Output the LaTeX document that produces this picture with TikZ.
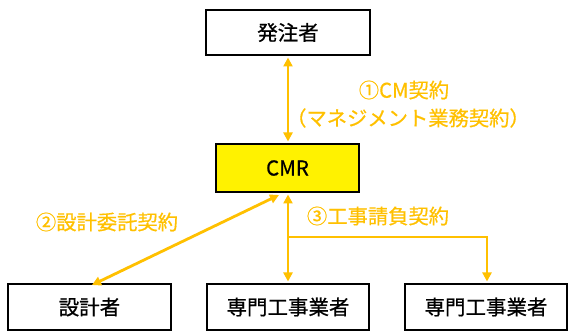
\documentclass[tikz,border=0pt]{standalone}
\usepackage{fontspec}
\setmainfont{Noto Sans CJK JP}[FakeBold=0.6]
\usetikzlibrary{arrows.meta}
\definecolor{contract}{HTML}{FFC000}
\begin{document}
\begin{tikzpicture}[x=1pt,y=-1pt,
  box/.style={draw=black,line width=2pt,minimum height=45pt,inner sep=0pt,font=\fontsize{20.5}{20.5}\selectfont},
  link/.style={draw=contract,line width=2.8pt,{Triangle[length=9pt,width=9pt]}-{Triangle[length=9pt,width=9pt]}},
  onelink/.style={draw=contract,line width=2.8pt,-{Triangle[length=9pt,width=9pt]}},
  lab/.style={text=contract,font=\fontsize{20.3}{20.3}\selectfont,inner sep=0pt}]
\useasboundingbox (0,0) rectangle (571,331);
\node[box,minimum width=164pt] (owner) at (288,32.5) {発注者};
\node[box,minimum width=143pt,minimum height=48pt,fill=yellow] (cmr) at (287.5,168) {CMR};
\node[box,minimum width=163pt,minimum height=46pt] (designer) at (89.5,307) {設計者};
\node[box,minimum width=162pt,minimum height=46pt] (sub1) at (288,307) {専門工事業者};
\node[box,minimum width=162pt,minimum height=46pt] (sub2) at (486,307) {専門工事業者};
\coordinate (branch) at (288,237);
\coordinate (corner) at (487,237);
\draw[link] ([yshift=-1.5pt]owner.south -| 288,0) -- ([yshift=1.5pt]cmr.north -| 288,0);
\draw[link] (279,195) -- (92,285);
\draw[link] ([yshift=-1.5pt]cmr.south -| 288,0) -- ([yshift=1.5pt]sub1.north);
\draw[onelink] (branch) -- (corner) -- ([yshift=1.5pt]sub2.north -| corner);
\node[lab] (l1) at (404,90) {①CM契約};
\node[lab] (l1b) at (408,118) {（マネジメント業務契約）};
\node[lab] (l2) at (107,222) {②設計委託契約};
\node[lab] (l3) at (378,216) {③工事請負契約};
\end{tikzpicture}
\end{document}
